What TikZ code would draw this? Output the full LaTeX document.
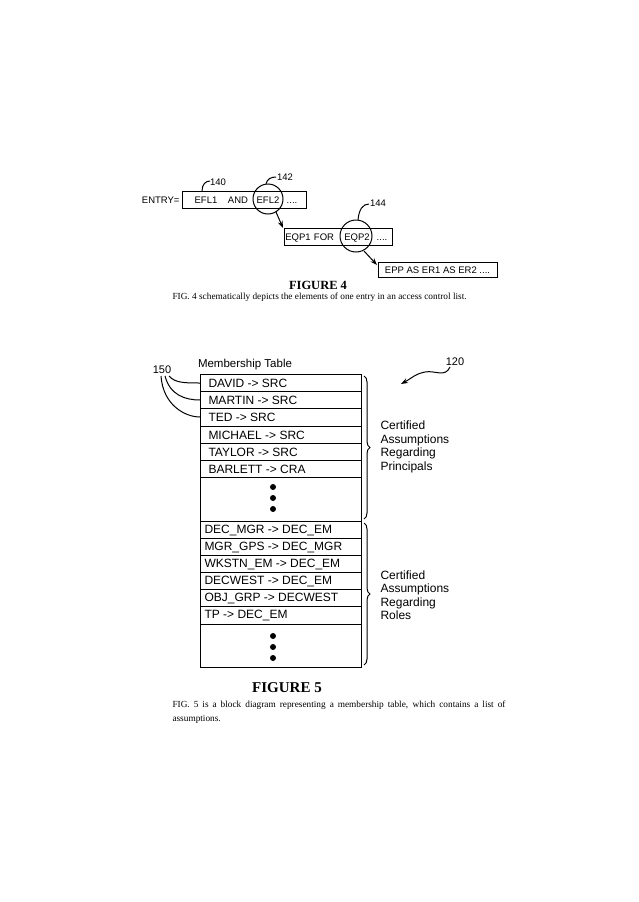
\documentclass[tikz,border=0pt]{standalone}
\usepackage{fontspec}
\setmainfont{Liberation Serif}
\newfontfamily\hv{Liberation Sans}
\usetikzlibrary{decorations.pathreplacing,arrows.meta}
\begin{document}
\begin{tikzpicture}[x=1pt,y=-1pt,line width=1pt,
  lbl/.style={font=\hv\fontsize{9.5}{10}\selectfont,inner sep=0pt},
  wl/.style={lbl,anchor=base},
  rowtxt/.style={font=\hv\fontsize{12}{12}\selectfont,anchor=west,inner sep=0pt},
  side/.style={font=\hv\fontsize{12}{13.5}\selectfont,align=left,anchor=west,inner sep=0pt},
  bx/.style={draw,line width=1pt},
  arr/.style={-{Stealth[length=7pt,width=5pt]},line width=1pt},
  dot/.style={circle,fill,inner sep=0pt,minimum size=6pt},
  brace/.style={decorate,decoration={brace,amplitude=6pt},line width=1pt}]
\useasboundingbox (0,0) rectangle (638,902);
% FIGURE 4
\node[wl,anchor=base east] (entry) at (180,203) {ENTRY=};
\draw[bx] (182,191) rectangle (306,208);
\node[wl] (a1) at (206,203) {EFL1};
\node[wl] (a2) at (238,203) {AND};
\node[wl] (a3) at (268,203) {EFL2};
\node[wl] (a4) at (292,203) {....};
\draw (268,199) circle (15);
\node[lbl] (n140) at (218,182) {140};
\draw (202,191) .. controls (202,184) and (206,181) .. (210,181);
\node[lbl] (n142) at (285,177) {142};
\draw (266,184) .. controls (267,179) and (271,177) .. (276,177);
\draw[bx] (284,228) rectangle (392,245);
\node[wl] (b1) at (298,240) {EQP1};
\node[wl] (b2) at (324,240) {FOR};
\node[wl] (b3) at (357,240) {EQP2};
\node[wl] (b4) at (382,240) {....};
\draw (356,236) circle (16);
\node[lbl] (n144) at (378,203) {144};
\draw (358,220) .. controls (359,209) and (363,204) .. (369,204);
\draw[bx] (378,262) rectangle (497,277);
\node[wl] (t3) at (437.5,273.5) {EPP AS ER1 AS ER2 ....};
\draw[arr] (276,212) -- (283,228);
\draw[arr] (364,251) -- (377,265);
\node[font=\bfseries\fontsize{12.5}{14}\selectfont] (f4) at (318,285) {FIGURE 4};
\node[font=\fontsize{9.3}{10}\selectfont,anchor=west,inner sep=0pt] (cap4) at (172,297) {FIG. 4 schematically depicts the elements of one entry in an access control list.};
% FIGURE 5
\node[font=\hv\fontsize{11.5}{12}\selectfont] (mt) at (245,365) {Membership Table};
\draw[bx] (200,374) rectangle (361,667);
\foreach \y in {391,408,426,443,460,477,521,538,555,572,589,606,624}
  \draw (200,\y) -- (361,\y);
\node[rowtxt] (r1) at (208,383) {DAVID -> SRC};
\node[rowtxt] (r2) at (208,400) {MARTIN -> SRC};
\node[rowtxt] (r3) at (208,417.5) {TED -> SRC};
\node[rowtxt] (r4) at (208,435) {MICHAEL -> SRC};
\node[rowtxt] (r5) at (208,452) {TAYLOR -> SRC};
\node[rowtxt] (r6) at (208,469) {BARLETT -> CRA};
\node[dot] at (273,487) {};\node[dot] at (273,498) {};\node[dot] at (273,509) {};
\node[rowtxt] (s1) at (204,530) {DEC\_MGR -> DEC\_EM};
\node[rowtxt] (s2) at (204,547) {MGR\_GPS -> DEC\_MGR};
\node[rowtxt] (s3) at (204,564) {WKSTN\_EM -> DEC\_EM};
\node[rowtxt] (s4) at (204,581) {DECWEST -> DEC\_EM};
\node[rowtxt] (s5) at (204,598) {OBJ\_GRP -> DECWEST};
\node[rowtxt] (s6) at (204,615.5) {TP -> DEC\_EM};
\node[dot] at (273,636) {};\node[dot] at (273,647) {};\node[dot] at (273,658) {};
\draw[brace] (364,376) -- (364,519);
\draw[brace] (364,523) -- (364,665);
\node[side] (p) at (380,447) {Certified\\Assumptions\\Regarding\\Principals};
\node[side] (q) at (380,595) {Certified\\Assumptions\\Regarding\\Roles};
\node[lbl,font=\hv\fontsize{11}{12}\selectfont] (n150) at (162,370) {150};
\draw (169,376) .. controls (175,383) and (185,383) .. (200,383);
\draw (165,376) .. controls (170,395) and (185,400) .. (200,400);
\draw (161,376) .. controls (163,405) and (185,417) .. (200,417);
\node[lbl,font=\hv\fontsize{11}{12}\selectfont] (n120) at (455,362) {120};
\draw[arr] (450,367) .. controls (445,378) and (435,370) .. (425,372) .. controls (415,374) and (412,378) .. (401,384);
\node[font=\bfseries\fontsize{15}{16}\selectfont] (f5) at (287,688) {FIGURE 5};
\node[font=\fontsize{9.3}{14}\selectfont,anchor=north west,inner sep=0pt,text width=333pt,align=justify] (cap5) at (172,700) {FIG. 5 is a block diagram representing a membership table, which contains a list of \mbox{assumptions.}};
\end{tikzpicture}
\end{document}
